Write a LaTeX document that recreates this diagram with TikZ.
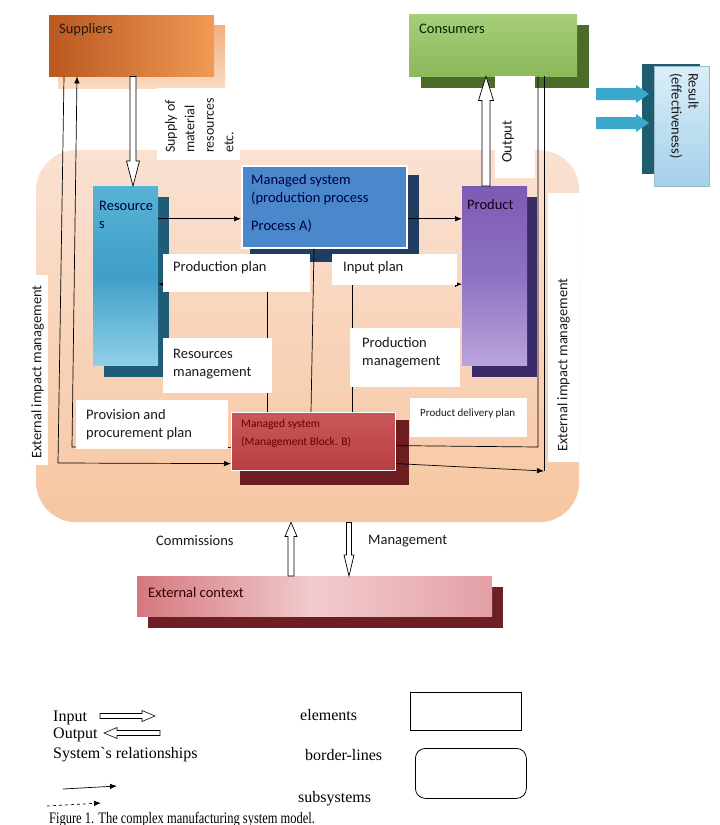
\documentclass[tikz,border=0pt]{standalone}
\usepackage{fontspec}
\usepackage{graphicx}
\setmainfont{Carlito}
\newfontfamily\legfont{Liberation Serif}
\usetikzlibrary{calc,arrows.meta}
\definecolor{pchT}{HTML}{FAE1D2}
\definecolor{pchB}{HTML}{F7C6A1}
\definecolor{supL}{HTML}{B9581F}
\definecolor{supR}{HTML}{F09A55}
\definecolor{supShT}{HTML}{F3B07E}
\definecolor{supShB}{HTML}{FADBC2}
\definecolor{conT}{HTML}{A6CD78}
\definecolor{conB}{HTML}{8CB95A}
\definecolor{conSh}{HTML}{4C6B2B}
\definecolor{rsT}{HTML}{DAEEF8}
\definecolor{rsB}{HTML}{A5D1E9}
\definecolor{rsSh}{HTML}{1E5D70}
\definecolor{arrT}{HTML}{3BA9CB}
\definecolor{resT}{HTML}{58B2D6}
\definecolor{resM}{HTML}{3F9FC8}
\definecolor{resB}{HTML}{90D0E8}
\definecolor{resSh}{HTML}{1F5C78}
\definecolor{aF}{HTML}{4A87CB}
\definecolor{aSh}{HTML}{1F3C63}
\definecolor{prT}{HTML}{7C5BB4}
\definecolor{prM}{HTML}{8E71C2}
\definecolor{prB}{HTML}{BAA4DD}
\definecolor{prSh}{HTML}{3A2C68}
\definecolor{bT}{HTML}{C9575A}
\definecolor{bB}{HTML}{B73F43}
\definecolor{bSh}{HTML}{6B1D1F}
\definecolor{exL}{HTML}{D5787E}
\definecolor{exM}{HTML}{F2CBCE}
\definecolor{exR}{HTML}{E3A0A5}
\definecolor{exSh}{HTML}{6E1F23}
\definecolor{txt}{HTML}{1A1A1A}
\begin{document}
\begin{tikzpicture}[x=1pt,y=-1pt,
  lbl/.style={font=\fontsize{14.5}{18}\selectfont, anchor=north west, inner sep=0pt, align=left, text=txt},
  wbox/.style={fill=white, draw=none, anchor=north west, inner sep=0pt},
  elbox/.style={anchor=north west, inner sep=0pt, draw=none},
  rel/.style={draw=black, line width=0.7pt},
  arr/.style={-{Latex[length=7pt,width=5.5pt]}},
  leg/.style={font=\legfont\fontsize{16}{19}\selectfont, anchor=base west, inner sep=0pt, text=black},
  hol/.style={draw=black, fill=white, line width=0.7pt, line join=miter},
  harrow/.style n args={3}{to path={
    let \p1=(\tikztostart), \p2=(\tikztotarget), \p3=($(\p2)!#3!(\p1)$) in
    ($(\p1)!#1!90:(\p2)$) -- ($(\p3)!#1!90:(\p2)$) -- ($(\p3)!#2!90:(\p2)$) -- (\p2)
    -- ($(\p3)!#2!-90:(\p2)$) -- ($(\p3)!#1!-90:(\p2)$) -- ($(\p1)!#1!-90:(\p2)$) -- cycle}},
]
\useasboundingbox (0,0) rectangle (720,825);
\fill[white] (0,0) rectangle (720,825);

% big border-line background
\node[elbox, minimum width=543pt, minimum height=372pt, rounded corners=40pt,
      top color=pchT, bottom color=pchB] (bg) at (36,150) {};

% Suppliers
\shade[top color=supShT, bottom color=supShB] (58,25) rectangle (225,88);
\node[elbox, minimum width=165pt, minimum height=61pt, left color=supL, right color=supR] (sup) at (49,15) {};
\node[lbl, text=black!80!brown] (supt) at (59,23) {Suppliers};

% Consumers
\fill[conSh] (421,25) rectangle (589,88);
\node[elbox, minimum width=168pt, minimum height=62pt, top color=conT, bottom color=conB] (con) at (409,14) {};
\node[lbl, text=black!85!green] (cont) at (419,24) {Consumers};

% Result
\fill[rsSh] (642,64) rectangle (700,174);
\node[elbox, minimum width=55pt, minimum height=120pt, top color=rsT, bottom color=rsB, draw=rsB!70!gray, line width=0.4pt] (result) at (654,66) {};
\node[lbl, rotate=-90, font=\fontsize{14.5}{17}\selectfont] (resultt) at (699,73) {Result\\(effectiveness)};
\coordinate (t1s) at (596,94);  \coordinate (t1e) at (649,94);
\coordinate (t2s) at (596,123); \coordinate (t2e) at (649,123);
\path[fill=arrT] (t1s) to[harrow={6pt}{9pt}{13pt}] (t1e);
\path[fill=arrT] (t2s) to[harrow={6pt}{9pt}{13pt}] (t2e);

% Resources
\fill[resSh] (104,197) rectangle (169,377);
\node[elbox, minimum width=65pt, minimum height=179pt, top color=resT, bottom color=resB, middle color=resM] (res) at (93,186) {};
\node[lbl, text=black!80!blue] (rest) at (99,201) {Resource\\s};

% Managed system A
\fill[aSh] (250,175) rectangle (419,262);
\node[elbox, minimum width=165pt, minimum height=82pt, fill=aF, draw=white, line width=1.5pt] (A) at (241,165) {};
\node[lbl, text=black!75!blue] (At) at (251,174) {Managed system\\(production process\\[10pt]Process A)};

% Product
\fill[prSh] (472,197) rectangle (537,377);
\node[elbox, minimum width=65pt, minimum height=179pt, top color=prT, bottom color=prB, middle color=prM] (prod) at (462,186) {};
\node[lbl, text=black!85!violet] (prodt) at (467,199) {Product};

% Managed system B
\fill[bSh] (240,420) rectangle (409,485);
\node[elbox, minimum width=164pt, minimum height=58pt, top color=bT, bottom color=bB, draw=white, line width=1.2pt] (B) at (231,412) {};
\node[lbl, font=\fontsize{11.5}{18}\selectfont, text=black!60!red] (Bt) at (241,419) {Managed system\\(Management Block. B)};

% External context
\fill[exSh] (148,587) rectangle (503,628);
\node[elbox, minimum width=355pt, minimum height=40pt, left color=exL, right color=exR, middle color=exM] (ext) at (137,576) {};
\node[lbl, text=black!80!red] (extt) at (148,587) {External context};

% hollow input/output arrows
\draw[hol] ($(sup.south west)+(84,0)$) to[harrow={3pt}{6.5pt}{25pt}] ($(res.north west)+(40,0)$);
\draw[hol] ($(prod.north west)+(24,0)$) to[harrow={4pt}{7.5pt}{24pt}] ($(con.south west)+(77,0)$);
\draw[hol] ($(ext.north west)+(154,0)$) to[harrow={3pt}{6pt}{14pt}] ($(bg.south west)+(255,0)$);
\draw[hol] ($(bg.south west)+(313,0)$) to[harrow={2.5pt}{5pt}{21pt}] ($(ext.north west)+(212,0)$);

% relationships
\coordinate (bL1) at (58,463);
\coordinate (bL2) at (72,447);
\coordinate (bR1) at (538,447);
\coordinate (bR2) at (544,471);
\draw[rel, arr] ($(sup.south west)+(15,0)$) -- (bL1) -- ([yshift=-22pt]B.west);
\draw[rel, arr] ([yshift=-6pt]B.west) -- (bL2) -- ($(sup.south west)+(28,0)$);
\draw[rel] ([yshift=-4pt]B.east) -- (bR1) -- ($(con.south west)+(129,0)$);
\draw[rel] ($(con.south west)+(135,0)$) -- (bR2);
\draw[rel, arr] ([yshift=-22pt]B.east) -- (bR2);
\coordinate (a1) at ([yshift=-12pt]A.west);
\draw[rel, arr] (res.east |- a1) -- (a1);
\draw[rel, arr] ([yshift=-12pt]A.east) -- (prod.west |- a1);
\draw[rel, arr] ([xshift=36pt]B.north west) |- ([yshift=-8.5pt]res.east);
\draw[rel, arr] ([xshift=121pt]B.north west) |- ([yshift=-8.5pt]prod.west);
\draw[rel] ([xshift=73pt]A.south west) -- ([xshift=80pt]B.north west);

% white label boxes
\node[wbox, minimum width=83pt, minimum height=72pt] (supb) at (157,88) {};
\node[wbox, minimum width=40pt, minimum height=102pt] (outb) at (495,76) {};
\node[wbox, minimum width=31pt, minimum height=269pt] (extRb) at (548,193) {};
\node[wbox, minimum width=21pt, minimum height=190pt] (extLb) at (27,275) {};
\node[wbox, minimum width=147pt, minimum height=38pt] (ppb) at (163,254) {};
\node[wbox, minimum width=125pt, minimum height=31pt] (ipb) at (332,254) {};
\node[wbox, minimum width=109pt, minimum height=55pt] (rmb) at (163,338) {};
\node[wbox, minimum width=110pt, minimum height=59pt] (pmb) at (350,328) {};
\node[wbox, minimum width=152pt, minimum height=49pt] (provb) at (76,400) {};
\node[wbox, minimum width=117pt, minimum height=39pt] (pdb) at (410,398) {};

% label texts
\node[lbl, rotate=90, font=\fontsize{14}{19.5}\selectfont] (supply) at (165,153) {Supply of\\material\\resources\\etc.};
\node[lbl, rotate=90] (outt) at (502,163) {Output};
\node[lbl, rotate=90] (extL) at (31,459) {External impact management};
\node[lbl, rotate=90] (extR) at (557,452) {External impact management};
\node[lbl] (pp) at (173,261) {Production plan};
\node[lbl] (ip) at (343,261) {Input plan};
\node[lbl] (rm) at (173,349) {Resources\\management};
\node[lbl] (pm) at (362,337) {Production\\management};
\node[lbl] (prov) at (86,409) {Provision and\\procurement plan};
\node[lbl, font=\fontsize{11}{14}\selectfont] (pd) at (420,409) {Product delivery plan};
\node[lbl] (comm) at (156,535) {Commissions};
\node[lbl] (mgmt) at (368,535) {Management};

% legend
\node[leg] (lin) at (53,721) {Input};
\node[leg] (lout) at (53,738) {Output};
\node[leg] (lrel) at (53,758) {System`s relationships};
\node[leg] (lel) at (300,720) {elements};
\node[leg] (lbd) at (305,760) {border-lines};
\node[leg] (lsub) at (298,802) {subsystems};
\coordinate (li1) at (100,716); \coordinate (li2) at (155,716);
\coordinate (lo1) at (160,733); \coordinate (lo2) at (104,733);
\draw[hol, line width=0.6pt] (li1) to[harrow={2.5pt}{5.5pt}{13pt}] (li2);
\draw[hol, line width=0.6pt] (lo1) to[harrow={2.5pt}{5.5pt}{13pt}] (lo2);
\coordinate (ls1) at (63,789); \coordinate (ls2) at (117,786);
\coordinate (ld1) at (47,806); \coordinate (ld2) at (101,803);
\draw[rel, arr] (ls1) -- (ls2);
\draw[rel, arr, dashed] (ld1) -- (ld2);
\node[elbox, draw=black, line width=0.8pt, minimum width=111pt, minimum height=38pt] (legel) at (410,692) {};
\node[elbox, draw=black, line width=0.8pt, rounded corners=10pt, minimum width=111pt, minimum height=50pt] (legbd) at (415,748) {};
\node[leg] (cap) at (49,823) {\scalebox{0.78}[1]{Figure 1. The complex manufacturing system model.}};
\end{tikzpicture}
\end{document}
